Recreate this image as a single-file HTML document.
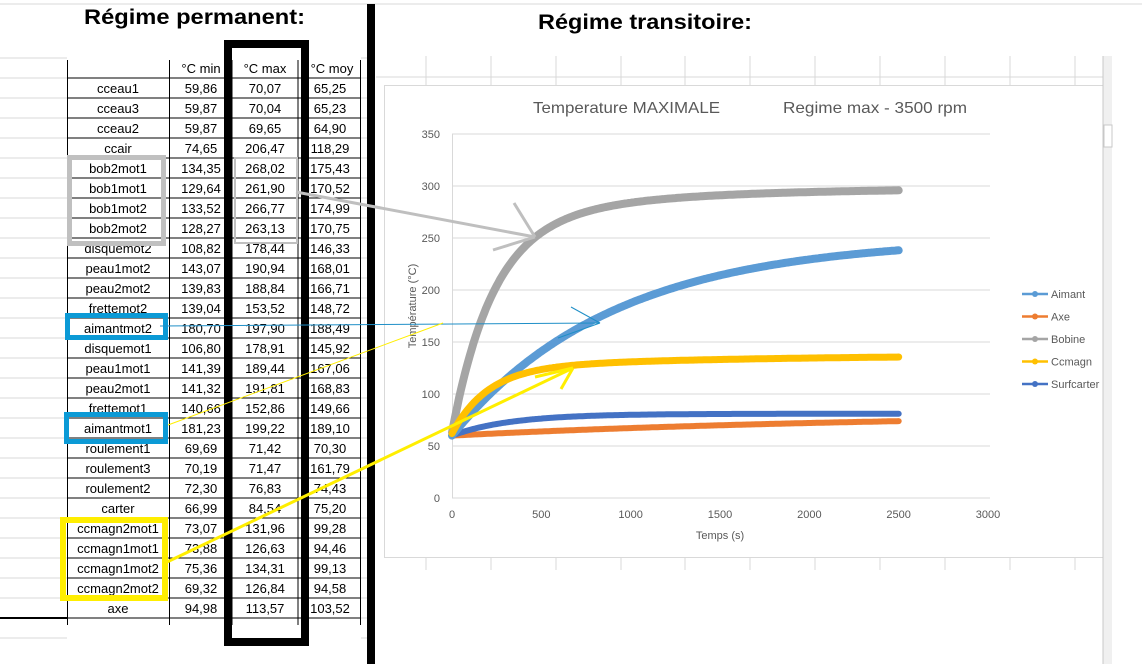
<!DOCTYPE html>
<html><head><meta charset="utf-8"><style>
html,body{margin:0;padding:0;background:#fff;}
svg{display:block;font-family:"Liberation Sans",sans-serif;}
</style></head><body>
<svg id="s" width="1142" height="664" viewBox="0 0 1142 664" xmlns="http://www.w3.org/2000/svg">
<rect width="1142" height="664" fill="#fff"/>
<g id="grid" stroke="#d9d9d9" stroke-width="1"></g>
<line x1="0" y1="4" x2="1142" y2="4" stroke="#d9d9d9"/>
<text x="84" y="24" font-size="21" font-weight="bold" textLength="221" lengthAdjust="spacingAndGlyphs">Régime permanent:</text>
<text x="538" y="29" font-size="21" font-weight="bold" textLength="214" lengthAdjust="spacingAndGlyphs">Régime transitoire:</text>
<g id="tbl" font-size="13" text-anchor="middle"></g>
<rect x="384.5" y="85.5" width="722" height="472" fill="#fff" stroke="#d9d9d9"/>
<rect x="1103" y="56" width="9" height="608" fill="#f0f0f0"/>
<line x1="1103" y1="56" x2="1103" y2="664" stroke="#c8c8c8"/>
<rect x="1104" y="125" width="8" height="22" fill="#fff" stroke="#c8c8c8"/>
<g id="chart"></g>
<text x="533" y="113" font-size="16" fill="#595959" textLength="187" lengthAdjust="spacingAndGlyphs">Temperature MAXIMALE</text>
<text x="783" y="113" font-size="16" fill="#595959" textLength="184" lengthAdjust="spacingAndGlyphs">Regime max  - 3500 rpm</text>
<text x="720" y="539" font-size="11" fill="#595959" text-anchor="middle">Temps (s)</text>
<text transform="translate(416,306) rotate(-90)" font-size="11" fill="#595959" text-anchor="middle">Température  (°C)</text>
<rect x="228" y="44" width="77" height="598" fill="none" stroke="#000" stroke-width="8"/>
<rect x="367" y="4" width="8" height="660" fill="#000"/>
<rect x="69.5" y="157.5" width="94" height="86" fill="none" stroke="#c0c0c0" stroke-width="5"/>
<rect x="235" y="158" width="62" height="85" fill="none" stroke="#c0c0c0" stroke-width="2"/>
<rect x="67.5" y="315.5" width="98" height="22" fill="none" stroke="#0b9ad6" stroke-width="5"/>
<rect x="66.5" y="414.5" width="99" height="27" fill="none" stroke="#0b9ad6" stroke-width="5"/>
<rect x="63" y="520" width="102" height="78" fill="none" stroke="#ffee00" stroke-width="6"/>
<g id="arrows"></g>
</svg>
<script>
var NS="http://www.w3.org/2000/svg";
function el(p,t,a,txt){var e=document.createElementNS(NS,t);for(var k in a)e.setAttribute(k,a[k]);if(txt!==undefined)e.textContent=txt;document.getElementById(p).appendChild(e);return e;}
for(var y=58;y<=640;y+=20){el("grid","line",{x1:0,y1:y,x2:67,y2:y});}
for(var y=58;y<=640;y+=20){el("grid","line",{x1:361,y1:y,x2:367,y2:y});}
el("grid","line",{x1:376,y1:77,x2:1103,y2:77});
[426,491,556,621,685,750,815,880,945,1010,1075].forEach(function(x){el("grid","line",{x1:x,y1:56,x2:x,y2:85});el("grid","line",{x1:x,y1:558,x2:x,y2:570});});
var rows=[["cceau1","59,86","70,07","65,25"],["cceau3","59,87","70,04","65,23"],["cceau2","59,87","69,65","64,90"],["ccair","74,65","206,47","118,29"],["bob2mot1","134,35","268,02","175,43"],["bob1mot1","129,64","261,90","170,52"],["bob1mot2","133,52","266,77","174,99"],["bob2mot2","128,27","263,13","170,75"],["disquemot2","108,82","178,44","146,33"],["peau1mot2","143,07","190,94","168,01"],["peau2mot2","139,83","188,84","166,71"],["frettemot2","139,04","153,52","148,72"],["aimantmot2","180,70","197,90","188,49"],["disquemot1","106,80","178,91","145,92"],["peau1mot1","141,39","189,44","167,06"],["peau2mot1","141,32","191,81","168,83"],["frettemot1","140,66","152,86","149,66"],["aimantmot1","181,23","199,22","189,10"],["roulement1","69,69","71,42","70,30"],["roulement3","70,19","71,47","161,79"],["roulement2","72,30","76,83","74,43"],["carter","66,99","84,54","75,20"],["ccmagn2mot1","73,07","131,96","99,28"],["ccmagn1mot1","73,88","126,63","94,46"],["ccmagn1mot2","75,36","134,31","99,13"],["ccmagn2mot2","69,32","126,84","94,58"],["axe","94,98","113,57","103,52"]];
var cx=[118,201,265,330];
el("tbl","text",{x:201,y:73},"°C min");el("tbl","text",{x:265,y:73},"°C max");el("tbl","text",{x:332,y:73},"°C moy");
rows.forEach(function(r,i){var y=78+i*20;for(var j=0;j<4;j++)el("tbl","text",{x:cx[j],y:y+15},r[j]);
 el("tbl","line",{x1:67,y1:y+20,x2:361,y2:y+20,stroke:"#000"});});
el("tbl","line",{x1:67,y1:78,x2:361,y2:78,stroke:"#000"});
[67.5,169.5,232,298,360.5].forEach(function(x){el("tbl","line",{x1:x,y1:60,x2:x,y2:625,stroke:"#000"});});
el("tbl","line",{x1:0,y1:618,x2:67,y2:618,stroke:"#000","stroke-width":2});
function X(t){return 452+t*0.17867;}function Y(T){return 498-T*1.04;}
for(var v=0;v<=350;v+=50){el("chart","line",{x1:452,y1:Y(v),x2:990,y2:Y(v),stroke:"#d9d9d9"});el("chart","text",{x:440,y:Y(v)+4,"font-size":11,fill:"#595959","text-anchor":"end"},v);}
el("chart","line",{x1:452.5,y1:Y(350),x2:452.5,y2:498,stroke:"#d9d9d9"});
for(var t=0;t<=3000;t+=500)el("chart","text",{x:X(t),y:518,"font-size":11,fill:"#595959","text-anchor":"middle"},t);
function E(t,k){return 1-Math.exp(-t/k);}
var ser=[
 {c:"#ed7d31",w:6,f:function(t){return 60+22*E(t,2500);}},
 {c:"#4472c4",w:6,f:function(t){return 60+21*E(t,330);}},
 {c:"#a5a5a5",w:8,f:function(t){return 63+200*E(t,230)+35*E(t,900);}},
 {c:"#5b9bd5",w:8,f:function(t){return 60+190*E(t,900);}},
 {c:"#ffc000",w:7,f:function(t){return 62+63*E(t,200)+13*E(t,1500);}}
];
ser.forEach(function(s){var d="";for(var t=0;t<=2500;t+=10){d+=(t?"L":"M")+X(t).toFixed(1)+","+Y(s.f(t)).toFixed(1);}el("chart","path",{d:d,fill:"none",stroke:s.c,"stroke-width":s.w,"stroke-linecap":"round","stroke-linejoin":"round"});});
var lg=[["Aimant","#5b9bd5"],["Axe","#ed7d31"],["Bobine","#a5a5a5"],["Ccmagn","#ffc000"],["Surfcarter","#4472c4"]];
lg.forEach(function(l,i){var y=294+i*22.5;el("chart","line",{x1:1022,y1:y,x2:1048,y2:y,stroke:l[1],"stroke-width":2.5});el("chart","circle",{cx:1035,cy:y,r:3,fill:l[1]});el("chart","text",{x:1051,y:y+4,"font-size":11,fill:"#595959"},l[0]);});
function L(a,b,c,d,col,w){el("arrows","line",{x1:a,y1:b,x2:c,y2:d,stroke:col,"stroke-width":w});}
L(296,192,535,237,"#bfbfbf",3);L(514,203,535,237,"#bfbfbf",3);L(493,250,535,237,"#bfbfbf",3);
L(160,326,600,323,"#1f8fc7",1);L(571,307,600,323,"#1f8fc7",1);L(558,338,600,323,"#1f8fc7",1);
L(168,425,443,323,"#ffee00",1);
L(165,563,573,368,"#ffee00",3);L(535,377,573,368,"#ffee00",3);L(561,389,573,368,"#ffee00",3);
</script>
</body></html>
